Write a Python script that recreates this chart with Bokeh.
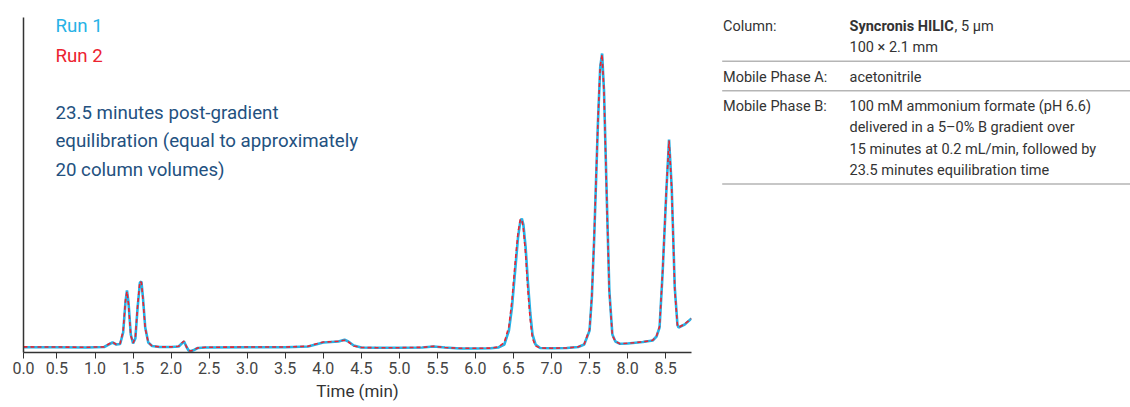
from bokeh.plotting import figure
from bokeh.models import Range1d, FixedTicker
from bokeh.layouts import row
from bokeh.core.properties import value
from bokeh.embed import file_html
from bokeh.resources import INLINE

FONT = "Roboto"

# retention time (min) and detector response (arbitrary units)
run1_time = [0.06, 0.5, 0.9, 1.0, 1.12, 1.18, 1.23, 1.28, 1.33, 1.37, 1.40, 1.42, 1.44, 1.47,
             1.50, 1.53, 1.56, 1.59, 1.61, 1.63, 1.66, 1.70, 1.75, 1.85, 2.0, 2.10, 2.14,
             2.17, 2.20, 2.23, 2.26, 2.30, 2.35, 2.45, 3.0, 3.5, 3.8, 3.9, 4.0, 4.1, 4.2,
             4.28, 4.33, 4.4, 4.5, 4.7, 5.0, 5.3, 5.45, 5.6, 5.8, 6.0, 6.2, 6.30, 6.38,
             6.44, 6.48, 6.52, 6.56, 6.59, 6.61, 6.63, 6.66, 6.69, 6.72, 6.75, 6.79, 6.85,
             7.0, 7.2, 7.35, 7.43, 7.50, 7.53, 7.56, 7.61, 7.64, 7.665, 7.69, 7.73, 7.76,
             7.80, 7.84, 7.90, 8.0, 8.2, 8.33, 8.38, 8.42, 8.46, 8.51, 8.545, 8.58, 8.62,
             8.655, 8.67, 8.75, 8.84]
run1_signal = [5.3, 5.3, 5.0, 5.3, 5.5, 8, 10, 8, 8.5, 20, 50, 62, 50, 18,
               9, 14, 45, 70, 71, 55, 25, 10, 6.5, 5.5, 5.5, 6, 9,
               11, 6, 2, 1.3, 2.5, 4.5, 5, 5.3, 5.3, 6, 8, 10, 10.5, 11,
               12.7, 11, 7, 5, 4.7, 4.7, 5, 6, 5, 4, 4, 4.2, 5, 8,
               22, 45, 80, 115, 131, 134, 128, 105, 70, 40, 18, 8, 4.5,
               4.2, 4.5, 5.5, 8, 22, 55, 112, 229, 285, 299, 262, 145, 62,
               18, 11, 8.7, 9, 10.5, 12, 16, 25, 79, 162, 213, 165, 65,
               28, 25, 28, 34]

run2_time = [0.06, 0.5, 0.9, 1.0, 1.12, 1.18, 1.23, 1.28, 1.33, 1.37, 1.40, 1.42, 1.44, 1.47,
             1.50, 1.53, 1.56, 1.59, 1.61, 1.63, 1.66, 1.70, 1.75, 1.85, 2.0, 2.10, 2.14,
             2.17, 2.20, 2.23, 2.26, 2.30, 2.35, 2.45, 3.0, 3.5, 3.8, 3.9, 4.0, 4.1, 4.2,
             4.28, 4.33, 4.4, 4.5, 4.7, 5.0, 5.3, 5.45, 5.6, 5.8, 6.0, 6.2, 6.30, 6.38,
             6.44, 6.48, 6.52, 6.56, 6.59, 6.61, 6.63, 6.66, 6.69, 6.72, 6.75, 6.79, 6.85,
             7.0, 7.2, 7.35, 7.43, 7.50, 7.53, 7.56, 7.61, 7.64, 7.665, 7.69, 7.73, 7.76,
             7.80, 7.84, 7.90, 8.0, 8.2, 8.33, 8.38, 8.42, 8.46, 8.51, 8.545, 8.58, 8.62,
             8.655, 8.67, 8.75, 8.84]
run2_signal = [5.6, 5.5, 5.2, 5.5, 5.6, 8.5, 10.5, 8, 9, 22, 52, 61, 48, 17,
               9.5, 15, 47, 71, 70, 53, 24, 10, 6.5, 5.6, 5.6, 6.2, 9.5,
               11.5, 6, 2.2, 1.5, 2.7, 4.6, 5.2, 5.5, 5.5, 6.2, 8.5, 10.5, 10.8, 11.2,
               12.3, 10.5, 6.5, 5, 4.8, 4.8, 5.2, 6.2, 5, 4.2, 4.2, 4.4, 5.5, 10,
               26, 52, 88, 120, 133, 133, 124, 98, 62, 33, 14, 6.5, 4.5,
               4.3, 4.6, 5.6, 8.5, 23, 57, 114, 231, 286, 298, 260, 142, 60,
               17, 11, 8.8, 9.2, 10.6, 12.2, 16.5, 26, 81, 164, 212, 163, 63,
               27, 25, 28.5, 34]

tick_values = [0.06, 0.5, 1.0, 1.5, 2.0, 2.5, 3.0, 3.5, 4.0, 4.5, 5.0, 5.5, 6.0, 6.5, 7.0, 7.5, 8.0, 8.5]
tick_labels = ["0.0", "0.5", "1.0", "1.5", "2.0", "2.5", "3.0", "3.5", "4.0", "4.5",
               "5.0", "5.5", "6.0", "6.5", "7.0", "7.5", "8.0", "8.5"]

legend_texts = ["Run 1", "Run 2"]
note_lines = ["23.5 minutes post-gradient",
              "equilibration (equal to approximately",
              "20 column volumes)"]

table_labels = ["Column:", "Mobile Phase A:", "Mobile Phase B:"]
table_values = [["Syncronis HILIC", "100 \u00d7 2.1 mm"],
                ["acetonitrile"],
                ["100 mM ammonium formate (pH 6.6)",
                 "delivered in a 5\u20130% B gradient over",
                 "15 minutes at 0.2 mL/min, followed by",
                 "23.5 minutes equilibration time"]]
column_suffix = ", 5 \u00b5m"

BLUE = "#27b2e6"
RED = "#ec2330"
NAVY = "#23517f"
GREY = "#333333"

# ---- chromatogram ----
p = figure(width=700, height=407, output_backend="svg", toolbar_location=None,
           x_range=Range1d(0.06, 8.84), y_range=Range1d(0, 335),
           min_border_left=23, min_border_right=9, min_border_top=17, min_border_bottom=55)
p.outline_line_color = None
p.grid.visible = False

p.line(run1_time, run1_signal, line_color=BLUE, line_width=2.6)
p.line(run2_time, run2_signal, line_color=RED, line_width=1.6, line_dash="4 3")

p.xaxis.ticker = FixedTicker(ticks=tick_values, minor_ticks=[])
p.xaxis.major_label_overrides = dict(zip(tick_values, tick_labels))
p.xaxis.axis_label = "Time (min)"
p.xaxis.axis_label_text_font = FONT
p.xaxis.axis_label_text_font_size = "17px"
p.xaxis.axis_label_text_font_style = "normal"
p.xaxis.axis_label_text_color = GREY
p.xaxis.axis_label_text_line_height = 1.0
p.xaxis.axis_label_standoff = 4
p.xaxis.major_label_text_font = FONT
p.xaxis.major_label_text_font_size = "16px"
p.xaxis.major_label_text_color = "#444444"
p.xaxis.major_label_text_line_height = 1.0
p.xaxis.major_label_standoff = 3
p.xaxis.major_tick_out = 6
p.xaxis.major_tick_in = 0
p.xaxis.major_tick_line_color = GREY
p.xaxis.axis_line_color = GREY
p.xaxis.axis_line_width = 1.5

p.yaxis.ticker = FixedTicker(ticks=[], minor_ticks=[])
p.yaxis.major_tick_out = 0
p.yaxis.minor_tick_out = 0
p.yaxis.major_label_text_font_size = "0px"
p.yaxis.axis_line_color = GREY
p.yaxis.axis_line_width = 1.5

text_x = 0.48
p.text(x=[text_x] * 2, y=[327, 297], text=legend_texts, text_color=[BLUE, RED],
       text_font=value(FONT), text_font_size="18.7px", text_baseline="alphabetic")
p.text(x=[text_x] * 3, y=[240, 211.5, 183], text=note_lines, text_color=NAVY,
       text_font=value(FONT), text_font_size="18.7px", text_baseline="alphabetic")

# ---- conditions table (same borders as the chart, so frames line up) ----
t = figure(width=430, height=407, output_backend="svg", toolbar_location=None,
           x_range=Range1d(700, 1130), y_range=Range1d(352, 17),
           min_border_left=0, min_border_right=0, min_border_top=17, min_border_bottom=55)
t.axis.visible = False
t.grid.visible = False
t.outline_line_color = None

label_x, value_x = 722.5, 849
line_h = 21.2
lift = 5  # text sits a little low with the alphabetic baseline
lab_x, lab_y, lab_t = [], [], []
val_x, val_y, val_t = [], [], []
rules = []
y = 30.7
for label, lines in zip(table_labels, table_values):
    lab_x.append(label_x)
    lab_y.append(y - lift)
    lab_t.append(label)
    for i, line in enumerate(lines):
        val_x.append(value_x)
        val_y.append(y + i * line_h - lift)
        val_t.append(line)
    last = y + (len(lines) - 1) * line_h
    rules.append(last + 8.8)
    y = last + 8.8 + 20.8

t.text(lab_x, lab_y, text=lab_t, text_color=GREY, text_font=value(FONT),
       text_font_size="14.5px", text_baseline="alphabetic")
# first value line is bold, the rest regular
t.text(val_x[:1], val_y[:1], text=val_t[:1], text_color=GREY, text_font=value(FONT),
       text_font_size="14.5px", text_font_style="bold", text_baseline="alphabetic")
t.text(val_x[1:], val_y[1:], text=val_t[1:], text_color=GREY, text_font=value(FONT),
       text_font_size="14.5px", text_baseline="alphabetic")
t.text([954], val_y[:1], text=[column_suffix], text_color=GREY, text_font=value(FONT),
       text_font_size="14.5px", text_baseline="alphabetic")
t.segment(x0=[721.7] * len(rules), y0=rules, x1=[1130] * len(rules), y1=rules,
          line_color="#b5b5b5", line_width=1.5)

layout = row(p, t)
open("out.html", "w").write(file_html(layout, INLINE))
